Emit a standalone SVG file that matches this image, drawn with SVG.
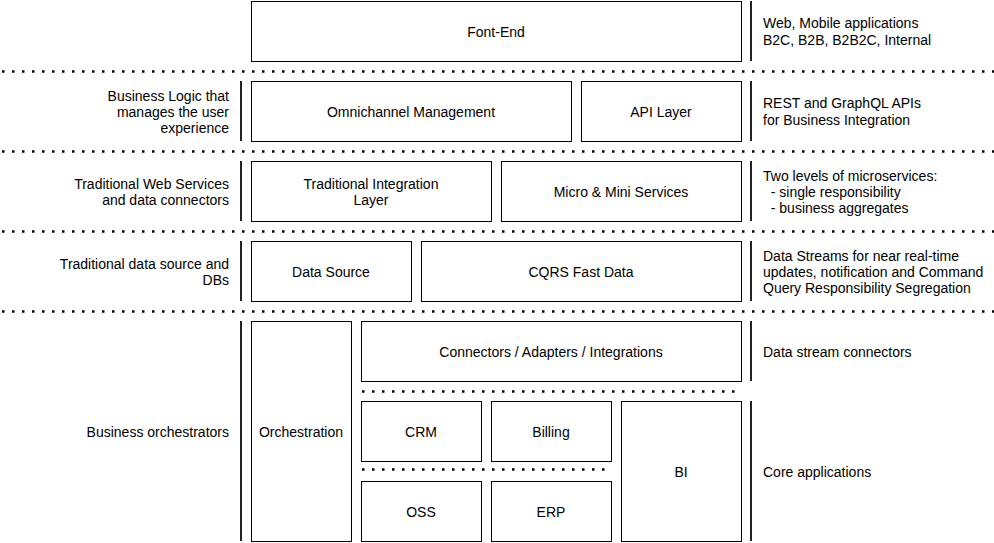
<svg xmlns="http://www.w3.org/2000/svg" width="994" height="543" viewBox="0 0 994 543">
<style>
.box{fill:#fff;stroke:#000;stroke-width:1}
.t{font-family:"Liberation Sans",Arial,sans-serif;font-size:14px;fill:#000}
.c{text-anchor:middle}
.r{text-anchor:end}
.dot{stroke:#000;stroke-width:2.5;stroke-dasharray:2.5 7.5;fill:none}
.sep{stroke:#222;stroke-width:2;fill:none}
</style>
<rect width="994" height="543" fill="#fff"/>
<g id="connectors">
<line class="dot" x1="2" y1="71.5" x2="994" y2="71.5"/>
<line class="dot" x1="2" y1="151.5" x2="994" y2="151.5"/>
<line class="dot" x1="2" y1="231.5" x2="994" y2="231.5"/>
<line class="dot" x1="2" y1="311.5" x2="994" y2="311.5"/>
<line class="dot" x1="362" y1="391.5" x2="742" y2="391.5"/>
<line class="dot" x1="362" y1="469.5" x2="606" y2="469.5"/>
<line class="sep" x1="241" y1="81" x2="241" y2="141"/>
<line class="sep" x1="241" y1="161" x2="241" y2="221"/>
<line class="sep" x1="241" y1="241" x2="241" y2="301"/>
<line class="sep" x1="241" y1="321" x2="241" y2="541"/>
<line class="sep" x1="751" y1="1" x2="751" y2="61"/>
<line class="sep" x1="751" y1="81" x2="751" y2="141"/>
<line class="sep" x1="751" y1="161" x2="751" y2="221"/>
<line class="sep" x1="751" y1="241" x2="751" y2="301"/>
<line class="sep" x1="751" y1="321" x2="751" y2="381"/>
<line class="sep" x1="751" y1="401" x2="751" y2="541"/>
</g>
<g id="frontend"><rect class="box" x="251.5" y="1.5" width="490" height="60"/><text class="t c" x="496" y="37">Font-End</text></g>
<g id="omni"><rect class="box" x="251.5" y="81.5" width="320" height="60"/><text class="t c" x="411" y="117">Omnichannel Management</text></g>
<g id="api"><rect class="box" x="581.5" y="81.5" width="160" height="60"/><text class="t c" x="661" y="117">API Layer</text></g>
<g id="til"><rect class="box" x="251.5" y="161.5" width="240" height="60"/><text class="t c" x="371" y="189">Traditional Integration</text><text class="t c" x="371" y="205">Layer</text></g>
<g id="micro"><rect class="box" x="501.5" y="161.5" width="240" height="60"/><text class="t c" x="621" y="197">Micro &amp; Mini Services</text></g>
<g id="datasource"><rect class="box" x="251.5" y="241.5" width="160" height="60"/><text class="t c" x="331" y="277">Data Source</text></g>
<g id="cqrs"><rect class="box" x="421.5" y="241.5" width="320" height="60"/><text class="t c" x="581" y="277">CQRS Fast Data</text></g>
<g id="orch"><rect class="box" x="251.5" y="321.5" width="100" height="220"/><text class="t c" x="301" y="437">Orchestration</text></g>
<g id="conn"><rect class="box" x="361.5" y="321.5" width="380" height="60"/><text class="t c" x="551" y="357">Connectors / Adapters / Integrations</text></g>
<g id="crm"><rect class="box" x="361.5" y="401.5" width="120" height="60"/><text class="t c" x="421" y="437">CRM</text></g>
<g id="billing"><rect class="box" x="491.5" y="401.5" width="120" height="60"/><text class="t c" x="551" y="437">Billing</text></g>
<g id="bi"><rect class="box" x="621.5" y="401.5" width="120" height="140"/><text class="t c" x="681" y="477">BI</text></g>
<g id="oss"><rect class="box" x="361.5" y="481.5" width="120" height="60"/><text class="t c" x="421" y="517">OSS</text></g>
<g id="erp"><rect class="box" x="491.5" y="481.5" width="120" height="60"/><text class="t c" x="551" y="517">ERP</text></g>
<g id="left-labels">
<text class="t r" x="229" y="101">Business Logic that</text>
<text class="t r" x="229" y="117">manages the user</text>
<text class="t r" x="229" y="133">experience</text>
<text class="t r" x="229" y="189">Traditional Web Services</text>
<text class="t r" x="229" y="205">and data connectors</text>
<text class="t r" x="229" y="269">Traditional data source and</text>
<text class="t r" x="229" y="285">DBs</text>
<text class="t r" x="229" y="437">Business orchestrators</text>
</g>
<g id="right-labels">
<text class="t" x="763" y="28">Web, Mobile applications</text>
<text class="t" x="763" y="45">B2C, B2B, B2B2C, Internal</text>
<text class="t" x="763" y="108">REST and GraphQL APIs</text>
<text class="t" x="763" y="125">for Business Integration</text>
<text class="t" x="763" y="181">Two levels of microservices:</text>
<text class="t" x="763" y="197" xml:space="preserve">  - single responsibility</text>
<text class="t" x="763" y="213" xml:space="preserve">  - business aggregates</text>
<text class="t" x="763" y="261">Data Streams for near real-time</text>
<text class="t" x="763" y="277">updates, notification and Command</text>
<text class="t" x="763" y="293">Query Responsibility Segregation</text>
<text class="t" x="763" y="357">Data stream connectors</text>
<text class="t" x="763" y="477">Core applications</text>
</g>
</svg>
